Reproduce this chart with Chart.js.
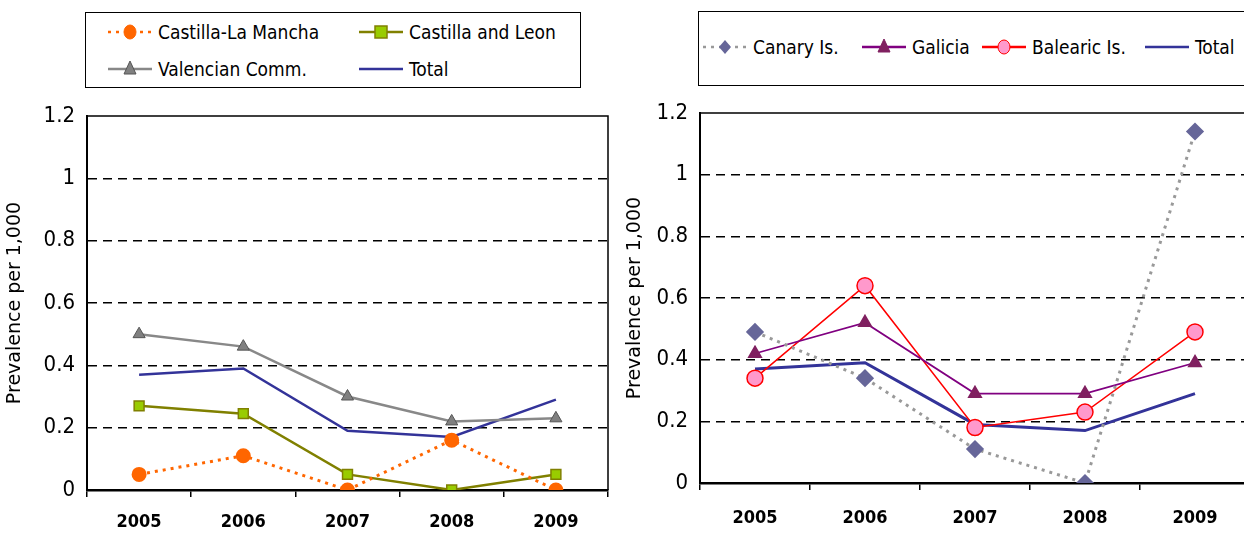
<!DOCTYPE html>
<html>
<head>
<meta charset="utf-8">
<script src="https://cdn.jsdelivr.net/npm/chart.js@4.4.1/dist/chart.umd.min.js"></script>
<style>
  html, body { margin: 0; padding: 0; background: #fff; overflow: hidden; }
  body { width: 1244px; height: 533px; position: relative; font-family: "DejaVu Sans Condensed", "Liberation Sans Narrow", "Liberation Sans", Arial, sans-serif; }
  .wrap { position: absolute; top: 0; }
  .legend { position: absolute; border: 1.5px solid #000; box-sizing: border-box; background: #fff; font-size: 19px; color: #000; }
  .item { position: absolute; display: flex; align-items: center; white-space: nowrap; }
  .item svg { margin-right: 6px; }
</style>
</head>
<body>
<div class="wrap" style="left:0;width:620px;height:533px;"><canvas id="leftChart"></canvas></div>
<div class="wrap" style="left:620px;width:640px;height:533px;"><canvas id="rightChart"></canvas></div>
<div class="legend" id="leftLegend" style="left:85px;top:12px;width:496px;height:76px;"></div>
<div class="legend" id="rightLegend" style="left:698px;top:11px;width:546px;height:75px;border-right:none;"></div>
<script>
// Shared data
const years = ["2005", "2006", "2007", "2008", "2009"];
const yTicks = [0, 0.2, 0.4, 0.6, 0.8, 1, 1.2];

const castillaLaMancha = [0.05, 0.11, 0, 0.16, 0];
const castillaLeon = [0.27, 0.245, 0.05, 0, 0.05];
const valencian = [0.50, 0.46, 0.30, 0.22, 0.23];
const total = [0.37, 0.39, 0.19, 0.17, 0.29];

const canary = [0.49, 0.34, 0.11, 0, 1.14];
const galicia = [0.42, 0.52, 0.29, 0.29, 0.39];
const balearic = [0.34, 0.64, 0.18, 0.23, 0.49];

const narrow = "'DejaVu Sans Condensed', 'Liberation Sans Narrow', 'Liberation Sans', sans-serif";
const tickFont = { family: narrow, size: 22 };
const yearFont = { family: narrow, size: 18, weight: 'bold' };

// frame on top and right of the plot
const framePlugin = {
    id: 'frame',
    afterDraw(chart) {
        const a = chart.chartArea, ctx = chart.ctx;
        ctx.save();
        ctx.strokeStyle = '#000';
        ctx.lineWidth = 1.5;
        ctx.beginPath();
        ctx.moveTo(a.left, a.top);
        ctx.lineTo(a.right, a.top);
        ctx.lineTo(a.right, a.bottom);
        ctx.stroke();
        ctx.restore();
    }
};

function makeOptions(pad, yWidth, xHeight, xPad) {
    return {
        responsive: true,
        maintainAspectRatio: false,
        animation: false,
        layout: { padding: pad },
        plugins: { legend: { display: false }, tooltip: { enabled: false } },
        scales: {
            x: {
                offset: true,
                grid: { offset: true, drawOnChartArea: false, drawTicks: true, tickLength: 7, color: '#000', lineWidth: 1.5 },
                border: { color: '#000', width: 2.5 },
                ticks: { color: '#000', font: yearFont, padding: xPad },
                afterFit: s => { s.height = xHeight; }
            },
            y: {
                min: 0, max: 1.2,
                afterBuildTicks: s => { s.ticks = yTicks.map(v => ({ value: v })); },
                grid: {
                    drawTicks: false,
                    color: c => (c.tick && (c.tick.value === 0 || c.tick.value === 1.2)) ? 'rgba(0,0,0,0)' : '#000',
                    lineWidth: 1.5
                },
                border: { color: '#000', width: 2, dash: [9, 6] },
                ticks: { color: '#000', font: tickFont, padding: 12, callback: v => String(Math.round(v * 10) / 10) },
                title: { display: true, text: 'Prevalence per 1,000', color: '#000', font: { family: "'DejaVu Sans', sans-serif", size: 19 }, padding: { top: 0, bottom: 2 } },
                afterFit: s => { s.width = yWidth; }
            }
        }
    };
}

const leftChart = new Chart(document.getElementById("leftChart"), {
    type: 'line',
    data: {
        labels: years,
        datasets: [
            { label: "Castilla-La Mancha", data: castillaLaMancha, borderColor: '#ff6600', borderDash: [3, 5], borderWidth: 3,
              pointStyle: 'circle', pointRadius: 6, backgroundColor: '#ff6600', pointBorderColor: '#ff6600' },
            { label: "Castilla and Leon", data: castillaLeon, borderColor: '#808000', borderWidth: 2.5,
              pointStyle: 'rect', pointRadius: 7, backgroundColor: '#99cc00', pointBorderColor: '#808000', pointBorderWidth: 1.5 },
            { label: "Valencian Comm.", data: valencian, borderColor: '#888888', borderWidth: 2.5,
              pointStyle: 'triangle', pointRadius: 7, backgroundColor: '#808080', pointBorderColor: '#555555', pointBorderWidth: 1 },
            { label: "Total", data: total, borderColor: '#333399', borderWidth: 2.5, pointRadius: 0, backgroundColor: '#333399' }
        ]
    },
    options: makeOptions({ top: 116, right: 12, left: 4, bottom: 0 }, 83, 43, 15),
    plugins: [framePlugin]
});

const rightChart = new Chart(document.getElementById("rightChart"), {
    type: 'line',
    data: {
        labels: years,
        datasets: [
            { label: "Canary Is.", data: canary, borderColor: '#999999', borderDash: [3, 5], borderWidth: 3,
              pointStyle: 'rectRot', pointRadius: 7, backgroundColor: '#666699', pointBorderColor: '#666699' },
            { label: "Galicia", data: galicia, borderColor: '#800080', borderWidth: 1.8,
              pointStyle: 'triangle', pointRadius: 7, backgroundColor: '#802060', pointBorderColor: '#802060' },
            { label: "Balearic Is.", data: balearic, borderColor: '#ff0000', borderWidth: 1.5,
              pointStyle: 'circle', pointRadius: 8, backgroundColor: '#ff99cc', pointBorderColor: '#ff0000', pointBorderWidth: 1.5 },
            { label: "Total", data: total, borderColor: '#333399', borderWidth: 3, pointRadius: 0, backgroundColor: '#333399' }
        ]
    },
    options: makeOptions({ top: 113, right: 8, left: 4, bottom: 0 }, 76, 50, 18),
    plugins: [framePlugin]
});

// HTML legends built from the datasets
function sample(ds) {
    const w = 44, h = 20, cy = 10, cx = 22;
    const dash = ds.borderDash ? `stroke-dasharray="${ds.borderDash.join(',')}"` : '';
    let marker = '';
    const f = ds.backgroundColor, s = ds.pointBorderColor || f;
    if (ds.pointRadius) {
        if (ds.pointStyle === 'circle') marker = `<ellipse cx="${cx}" cy="${cy}" rx="6" ry="7" fill="${f}" stroke="${s}"/>`;
        if (ds.pointStyle === 'rect') marker = `<rect x="${cx - 6}" y="${cy - 6}" width="12" height="12" fill="${f}" stroke="${s}" stroke-width="1.5"/>`;
        if (ds.pointStyle === 'triangle') marker = `<polygon points="${cx},${cy - 8} ${cx + 6},${cy + 5} ${cx - 6},${cy + 5}" fill="${f}" stroke="${s}"/>`;
        if (ds.pointStyle === 'rectRot') marker = `<polygon points="${cx},${cy - 7} ${cx + 6},${cy} ${cx},${cy + 7} ${cx - 6},${cy}" fill="${f}"/>`;
    }
    return `<svg width="${w}" height="${h}"><line x1="0" y1="${cy}" x2="${w}" y2="${cy}" stroke="${ds.borderColor}" stroke-width="2.5" ${dash}/>${marker}</svg>`;
}

function buildLegend(el, chart, positions) {
    chart.data.datasets.forEach((ds, i) => {
        const d = document.createElement('div');
        d.className = 'item';
        d.style.left = positions[i][0] + 'px';
        d.style.top = positions[i][1] + 'px';
        d.innerHTML = sample(ds) + '<span>' + ds.label + '</span>';
        el.appendChild(d);
    });
}

buildLegend(document.getElementById('leftLegend'), leftChart, [[22, 8], [273, 8], [22, 45], [273, 45]]);
buildLegend(document.getElementById('rightLegend'), rightChart, [[4, 24], [163, 24], [283, 24], [446, 24]]);
</script>
</body>
</html>
